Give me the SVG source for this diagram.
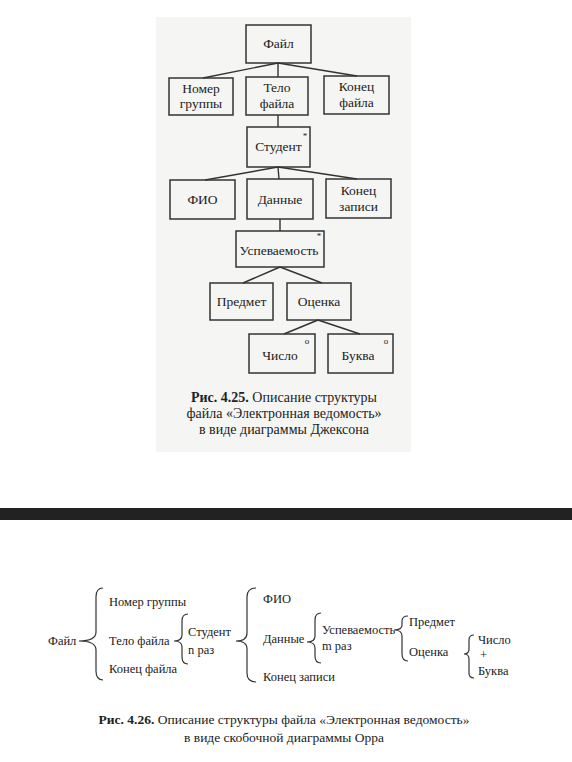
<svg xmlns="http://www.w3.org/2000/svg" width="572" height="762" viewBox="0 0 572 762" font-family="'Liberation Serif','Times New Roman','DejaVu Serif',serif">
<style>
.box{fill:none;stroke:#333;stroke-width:1.5}
.ln{fill:none;stroke:#333;stroke-width:1.4}
.br{fill:none;stroke:#333;stroke-width:1.2}
text{font-family:'Liberation Serif','Times New Roman','DejaVu Serif',serif;fill:#222}
.t{font-size:13.5px;text-anchor:middle}
.m{font-size:9px;text-anchor:middle}
.o{font-size:12.5px}
.cap{font-size:14px;text-anchor:middle}
.cap2{font-size:13.5px;text-anchor:middle}
</style>
<rect x="156" y="17" width="255" height="435" fill="#f5f5f3"/>
<rect x="0" y="508" width="572" height="12" fill="#222"/>

<g id="connectors">
<line class="ln" x1="278" y1="63" x2="203" y2="78"/>
<line class="ln" x1="278" y1="63" x2="278" y2="77"/>
<line class="ln" x1="278" y1="63" x2="357" y2="76"/>
<line class="ln" x1="278" y1="115" x2="278" y2="127"/>
<line class="ln" x1="278" y1="167" x2="205" y2="180"/>
<line class="ln" x1="278" y1="167" x2="279" y2="179"/>
<line class="ln" x1="278" y1="167" x2="357" y2="179"/>
<line class="ln" x1="280" y1="219" x2="280" y2="231"/>
<line class="ln" x1="280" y1="267" x2="243" y2="283"/>
<line class="ln" x1="280" y1="267" x2="322" y2="283"/>
<line class="ln" x1="318" y1="320" x2="284" y2="334"/>
<line class="ln" x1="318" y1="320" x2="360" y2="334"/>
</g>

<g id="n-fail"><rect class="box" x="246" y="25" width="65" height="38"/><text class="t" x="278.5" y="48">Файл</text></g>
<g id="n-nomer"><rect class="box" x="169" y="78" width="64" height="37"/><text class="t" x="201" y="93">Номер</text><text class="t" x="201" y="108">группы</text></g>
<g id="n-telo"><rect class="box" x="246" y="77" width="62" height="38"/><text class="t" x="277" y="92">Тело</text><text class="t" x="277" y="108">файла</text></g>
<g id="n-konecf"><rect class="box" x="324" y="76" width="65" height="38"/><text class="t" x="356.5" y="91">Конец</text><text class="t" x="356.5" y="107">файла</text></g>
<g id="n-student"><rect class="box" x="247" y="127" width="63" height="40"/><text class="t" x="278.5" y="151">Студент</text><text class="m" x="305" y="139">*</text></g>
<g id="n-fio"><rect class="box" x="170" y="180" width="65" height="39"/><text class="t" x="202.5" y="204">ФИО</text></g>
<g id="n-dannye"><rect class="box" x="247" y="179" width="66" height="40"/><text class="t" x="280" y="204">Данные</text></g>
<g id="n-konecz"><rect class="box" x="326" y="179" width="65" height="39"/><text class="t" x="358.5" y="195">Конец</text><text class="t" x="358.5" y="211">записи</text></g>
<g id="n-usp"><rect class="box" x="236" y="231" width="88" height="36"/><text class="t" x="279" y="255" font-size="13">Успеваемость</text><text class="m" x="319" y="239">*</text></g>
<g id="n-predmet"><rect class="box" x="210" y="283" width="63" height="37"/><text class="t" x="241.5" y="306">Предмет</text></g>
<g id="n-ocenka"><rect class="box" x="287" y="283" width="64" height="37"/><text class="t" x="319" y="306">Оценка</text></g>
<g id="n-chislo"><rect class="box" x="249" y="334" width="66" height="39"/><text class="t" x="280" y="360">Число</text><text class="m" x="307" y="344">о</text></g>
<g id="n-bukva"><rect class="box" x="328" y="334" width="65" height="39"/><text class="t" x="358" y="360">Буква</text><text class="m" x="386" y="344">о</text></g>

<g id="caption1">
<text class="cap" x="284" y="402"><tspan font-weight="bold">Рис. 4.25.</tspan> Описание структуры</text>
<text class="cap" x="284" y="418">файла «Электронная ведомость»</text>
<text class="cap" x="284" y="434">в виде диаграммы Джексона</text>
</g>

<g id="orr">
<path class="br" d="M103,588 Q96,588 96,597 L96,632 Q96,641 79,641 Q96,641 96,650 L96,671 Q96,680 103,680"/>
<path class="br" d="M188,614 Q182,614 182,621 L182,635 Q182,641 174,641 Q182,641 182,647 L182,657 Q182,664 188,664"/>
<path class="br" d="M256,588 Q247,588 247,597 L247,633 Q247,641 236,641 Q247,641 247,649 L247,673 Q247,682 256,682"/>
<path class="br" d="M321,613 Q315,613 315,620 L315,636 Q315,642 307,642 Q315,642 315,648 L315,656 Q315,663 321,663"/>
<path class="br" d="M408,616 Q402,616 402,621 L402,625 Q402,630 394,630 Q402,630 402,636 L402,654 Q402,661 408,661"/>
<path class="br" d="M474,635 Q469,635 469,640 L469,649 Q469,654 464,654 Q469,654 469,659 L469,673 Q469,678 474,678"/>
<text class="o" x="48" y="645">Файл</text>
<text class="o" x="109" y="606">Номер группы</text>
<text class="o" x="109" y="645">Тело файла</text>
<text class="o" x="109" y="673">Конец файла</text>
<text class="o" x="188" y="636">Студент</text>
<text class="o" x="188" y="654">n раз</text>
<text class="o" x="263" y="603">ФИО</text>
<text class="o" x="263" y="643">Данные</text>
<text class="o" x="263" y="681">Конец записи</text>
<text class="o" x="322" y="634">Успеваемость</text>
<text class="o" x="322" y="650">m раз</text>
<text class="o" x="409" y="626">Предмет</text>
<text class="o" x="409" y="656">Оценка</text>
<text class="o" x="478" y="644">Число</text>
<text class="o" x="480" y="659">+</text>
<text class="o" x="478" y="675">Буква</text>
</g>

<g id="caption2">
<text class="cap2" x="284" y="724"><tspan font-weight="bold">Рис. 4.26.</tspan> Описание структуры файла «Электронная ведомость»</text>
<text class="cap2" x="284" y="742">в виде скобочной диаграммы Орра</text>
</g>
</svg>
